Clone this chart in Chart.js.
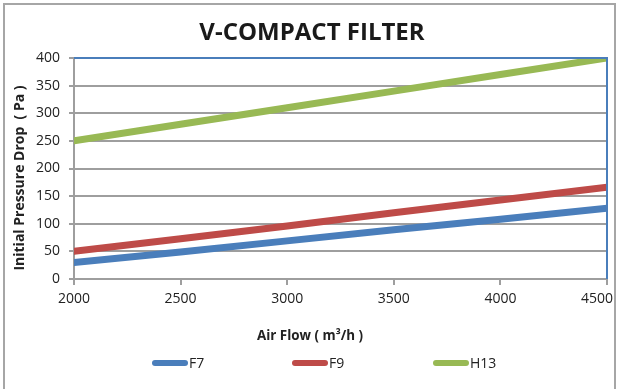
<!DOCTYPE html>
<html>
<head>
<meta charset="utf-8">
<script src="https://cdn.jsdelivr.net/npm/chart.js@4.4.0/dist/chart.umd.min.js"></script>
<style>
  html, body { margin: 0; padding: 0; background: #fff; }
  #wrap { width: 617px; height: 389px; position: relative; }
</style>
</head>
<body>
<div id="wrap"><canvas id="chart"></canvas></div>
<script>
// values
const airFlow = [2000, 2500, 3000, 3500, 4000, 4500];
const f7 = [30, 49, 69, 89, 108, 128];
const f9 = [50, 73, 96, 120, 143, 166];
const h13 = [250, 280, 310, 340, 370, 400];
const seriesNames = ['F7', 'F9', 'H13'];
const yTicks = [0, 50, 100, 150, 200, 250, 300, 350, 400];
const chartTitle = 'V-COMPACT FILTER';
const xTitle = 'Air Flow ( m³/h )';
const yTitle = 'Initial Pressure Drop  ( Pa )';

const colors = ['#4a7ebb', '#be4b48', '#98b954'];
const font = "'Open Sans', sans-serif";

const toPoints = vals => vals.map((v, i) => ({ x: airFlow[i], y: v }));

// frame, titles, blue top/right border of the plot and the line legend
const decor = {
    id: 'decor',
    beforeDraw(c) {
        const ctx = c.ctx;
        ctx.save();
        ctx.fillStyle = '#fff';
        ctx.fillRect(0, 0, c.width, c.height);
        ctx.strokeStyle = '#a6a6a6';
        ctx.lineWidth = 2;
        ctx.beginPath();
        ctx.moveTo(4, c.height);
        ctx.lineTo(4, 4);
        ctx.lineTo(615, 4);
        ctx.lineTo(615, c.height);
        ctx.stroke();
        ctx.restore();

        // last x label sits a bit left of its tick, like the original
        const items = c.scales.x.getLabelItems();
        if (items.length) items[items.length - 1].options.translation[0] -= 10;
    },
    afterDatasetsDraw(c) {
        const a = c.chartArea, ctx = c.ctx;
        ctx.save();
        ctx.strokeStyle = '#4a7ebb';
        ctx.lineWidth = 2;
        ctx.beginPath();
        ctx.moveTo(a.left, a.top);
        ctx.lineTo(a.right, a.top);
        ctx.lineTo(a.right, a.bottom);
        ctx.stroke();
        ctx.restore();
    },
    afterDraw(c) {
        const ctx = c.ctx;
        ctx.save();
        ctx.textAlign = 'center';
        ctx.textBaseline = 'alphabetic';

        ctx.fillStyle = '#1a1a1a';
        ctx.font = "bold 24px " + font;
        ctx.fillText(chartTitle, 312, 40);

        ctx.fillStyle = '#222';
        ctx.font = "bold 13.4px " + font;
        ctx.fillText(xTitle, 310, 340);

        ctx.save();
        ctx.translate(24, 178);
        ctx.rotate(-Math.PI / 2);
        ctx.font = "bold 14px " + font;
        ctx.fillText(yTitle, 0, 0);
        ctx.restore();

        const starts = [152, 292, 433];
        ctx.font = "14px " + font;
        ctx.textAlign = 'left';
        ctx.textBaseline = 'middle';
        c.data.datasets.forEach((ds, i) => {
            const x = starts[i], y = 363;
            ctx.strokeStyle = ds.borderColor;
            ctx.lineWidth = 6;
            ctx.lineCap = 'round';
            ctx.beginPath();
            ctx.moveTo(x + 3, y);
            ctx.lineTo(x + 33, y);
            ctx.stroke();
            ctx.fillText(ds.label, x + 37, y + 1);
        });
        ctx.restore();
    }
};

new Chart(document.querySelector('#chart'), {
    type: 'line',
    data: {
        datasets: [f7, f9, h13].map((vals, i) => ({
            label: seriesNames[i],
            data: toPoints(vals),
            borderColor: colors[i],
            backgroundColor: colors[i],
            borderWidth: 7,
            borderCapStyle: 'round',
            pointRadius: 0,
            tension: 0
        }))
    },
    options: {
        responsive: true,
        maintainAspectRatio: false,
        animation: false,
        layout: { padding: { left: 4, right: 10, top: 58, bottom: 44 } },
        plugins: {
            legend: { display: false },
            tooltip: { enabled: false },
            title: { display: false }
        },
        scales: {
            x: {
                type: 'linear',
                min: 2000,
                max: 4500,
                afterFit: s => { s.height = 66; s.paddingRight = 0; s.paddingLeft = 0; },
                ticks: {
                    stepSize: 500, color: '#222', font: { family: font, size: 14 }, padding: 6, maxRotation: 0,
                    callback: v => String(v)
                },
                grid: { drawOnChartArea: false, drawTicks: true, tickLength: 6, color: '#9e9e9e', lineWidth: 2 },
                border: { color: '#9e9e9e', width: 2 }
            },
            y: {
                min: 0,
                max: 400,
                afterFit: s => { s.width = 70; },
                afterBuildTicks: s => { s.ticks = yTicks.map(v => ({ value: v })); },
                ticks: { color: '#222', font: { family: font, size: 14 }, padding: 9 },
                grid: { color: '#9e9e9e', lineWidth: 2, tickLength: 5 },
                border: { color: '#9e9e9e', width: 2 }
            }
        }
    },
    plugins: [decor]
});
</script>
</body>
</html>
